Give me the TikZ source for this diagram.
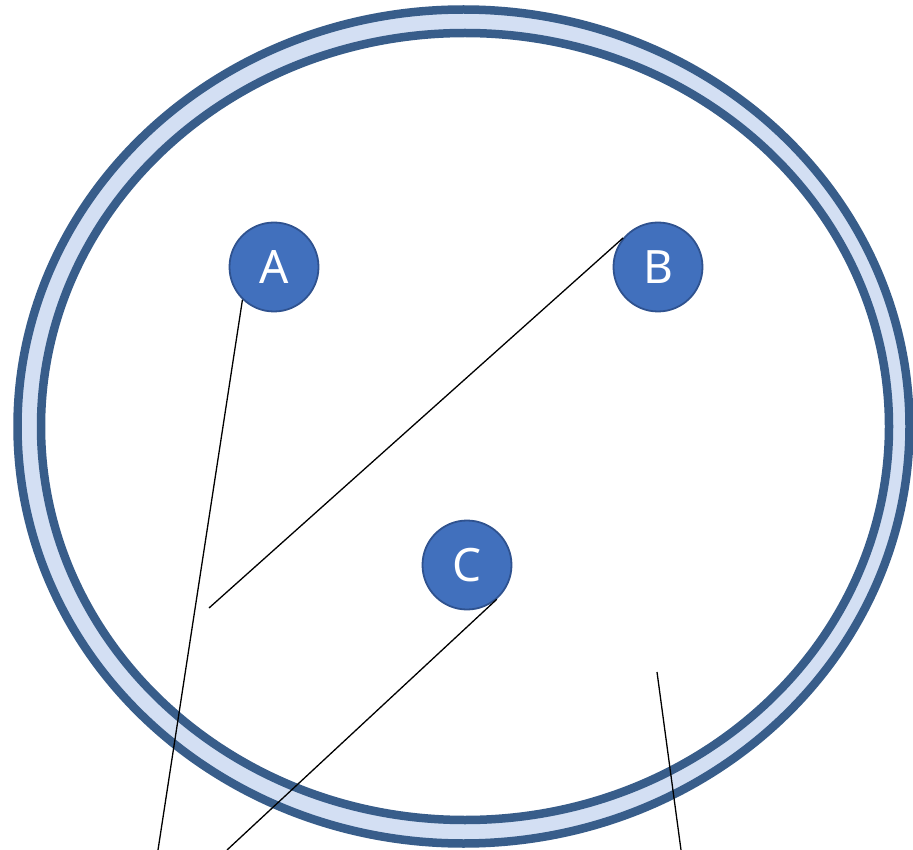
\documentclass[tikz,border=0pt]{standalone}
\usepackage{fontspec}
\setmainfont{Noto Sans}
\definecolor{ringdark}{HTML}{385D8A}
\definecolor{ringlight}{HTML}{D3DFF3}
\definecolor{dotfill}{HTML}{4170BD}
\definecolor{dotline}{HTML}{2F528F}
\tikzset{
  ringline/.style={draw=ringdark, line width=8.5pt},
  dotnode/.style={circle, fill=dotfill, draw=dotline, line width=1.8pt,
    minimum size=89pt, inner sep=0pt, text=white,
    font=\fontsize{46}{46}\selectfont},
  leader/.style={draw=black, line width=1.3pt}
}
\begin{document}
\begin{tikzpicture}[x=1pt,y=-1pt]
\useasboundingbox (0,0) rectangle (913,850);
\fill[white] (0,0) rectangle (913,850);
% ring
\path[ringline, fill=ringlight] (463.5,426.5) ellipse [x radius=446pt, y radius=417pt];
\path[ringline, fill=white] (465,426.5) ellipse [x radius=424pt, y radius=393.5pt];
% small circles
\node[dotnode] (A) at (274,267) {A};
\node[dotnode] (B) at (658,267) {B};
\node[dotnode] (C) at (467,565) {C};
% free ends
\coordinate (a1) at (158,850);
\coordinate (b1) at (209,608);
\coordinate (c1) at (227,850);
\coordinate (d0) at (657,672);
\coordinate (d1) at (681,850);
% leader lines
\draw[leader] (A.226) -- (a1);
\draw[leader] (B.140) -- (b1);
\draw[leader] (C.311) -- (c1);
\draw[leader] (d0) -- (d1);
\end{tikzpicture}
\end{document}
